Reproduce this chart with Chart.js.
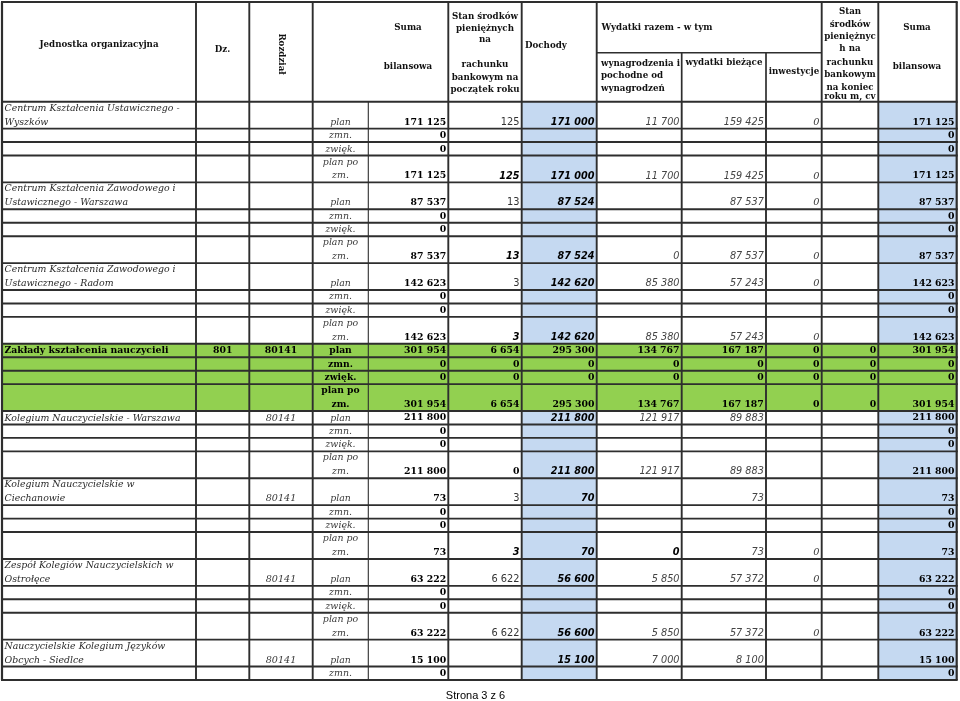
<!DOCTYPE html>
<html>
<head>
<meta charset="utf-8">
<script src="https://cdn.jsdelivr.net/npm/chart.js@4.4.0/dist/chart.umd.min.js"></script>
<style>
html,body{margin:0;padding:0;background:#ffffff;}
#wrap{width:960px;height:701px;position:relative;}
</style>
</head>
<body>
<div id="wrap"><canvas id="c" width="960" height="701"></canvas></div>
<script>
// ---------------- DATA ----------------
const orgNames = [
  ['Centrum Kształcenia Ustawicznego -', 'Wyszków'],
  ['Centrum Kształcenia Zawodowego i', 'Ustawicznego - Warszawa'],
  ['Centrum Kształcenia Zawodowego i', 'Ustawicznego - Radom'],
  ['Zakłady kształcenia nauczycieli'],
  ['Kolegium Nauczycielskie - Warszawa'],
  ['Kolegium Nauczycielskie w', 'Ciechanowie'],
  ['Zespół Kolegiów Nauczycielskich w', 'Ostrołęce'],
  ['Nauczycielskie Kolegium Języków', 'Obcych - Siedlce']
];
const dzialCodes = ['', '', '', '801', '', '', '', ''];
const rozdzialCodes = ['', '', '', '80141', '80141', '80141', '80141', '80141'];
const summaryUnit = 3; // "Zakłady kształcenia nauczycieli" (highlighted total row)
const rowLabels = [['plan'], ['zmn.'], ['zwięk.'], ['plan po', 'zm.']];

// columns: suma bilansowa, stan pocz., dochody, wynagrodzenia, wydatki bieżące, inwestycje, stan końc., suma bilansowa
const planValues = [
  [171125, 125, 171000, 11700, 159425, 0, null, 171125],
  [87537, 13, 87524, null, 87537, 0, null, 87537],
  [142623, 3, 142620, 85380, 57243, 0, null, 142623],
  [301954, 6654, 295300, 134767, 167187, 0, 0, 301954],
  [211800, null, 211800, 121917, 89883, null, null, 211800],
  [73, 3, 70, null, 73, null, null, 73],
  [63222, 6622, 56600, 5850, 57372, 0, null, 63222],
  [15100, null, 15100, 7000, 8100, null, null, 15100]
];
const zmnValues = [
  [0, null, null, null, null, null, null, 0],
  [0, null, null, null, null, null, null, 0],
  [0, null, null, null, null, null, null, 0],
  [0, 0, 0, 0, 0, 0, 0, 0],
  [0, null, null, null, null, null, null, 0],
  [0, null, null, null, null, null, null, 0],
  [0, null, null, null, null, null, null, 0],
  [0, null, null, null, null, null, null, 0]
];
const zwiekValues = [
  [0, null, null, null, null, null, null, 0],
  [0, null, null, null, null, null, null, 0],
  [0, null, null, null, null, null, null, 0],
  [0, 0, 0, 0, 0, 0, 0, 0],
  [0, null, null, null, null, null, null, 0],
  [0, null, null, null, null, null, null, 0],
  [0, null, null, null, null, null, null, 0],
  null
];
const planPoValues = [
  [171125, 125, 171000, 11700, 159425, 0, null, 171125],
  [87537, 13, 87524, 0, 87537, 0, null, 87537],
  [142623, 3, 142620, 85380, 57243, 0, null, 142623],
  [301954, 6654, 295300, 134767, 167187, 0, 0, 301954],
  [211800, 0, 211800, 121917, 89883, null, null, 211800],
  [73, 3, 70, 0, 73, 0, null, 73],
  [63222, 6622, 56600, 5850, 57372, 0, null, 63222],
  null
];
const headerLabels = {
  unit: 'Jednostka organizacyjna',
  dz: 'Dz.',
  rozdz: 'Rozdział',
  sumaStart: ['Suma', 'bilansowa'],
  stanStart: ['Stan środków', 'pieniężnych', 'na', 'rachunku', 'bankowym na', 'początek roku'],
  dochody: 'Dochody',
  wydatki: 'Wydatki razem - w tym',
  wynagr: ['wynagrodzenia i', 'pochodne od', 'wynagrodzeń'],
  biezace: 'wydatki bieżące',
  inwest: 'inwestycje',
  stanEnd: ['Stan', 'środków', 'pieniężnyc', 'h na', 'rachunku', 'bankowym', 'na koniec', 'roku m, cv'],
  sumaEnd: ['Suma', 'bilansowa']
};
const footerText = 'Strona 3 z 6';

// ---------------- LAYOUT / STYLE ----------------
const COL_EDGES = [2, 196, 249.3, 312.7, 368.3, 448.3, 521.7, 596.7, 681.7, 766, 821.7, 878.3, 956.7];
const HEADER_TOP = 2;
const BLUE = '#c5d9f1';
const GREEN = '#92d050';
const LINE = '#2e2e2e';
const SERIF = '"DejaVu Serif", serif';
const SANS = '"DejaVu Sans", sans-serif';
const ST = {
  boldSerif: { font: 'bold 9.3px ' + SERIF, color: '#000' },
  italicSerif: { font: 'italic 9.8px ' + SERIF, color: '#3a3a3a' },
  regSans: { font: '9.8px ' + SANS, color: '#333' },
  boldItSans: { font: 'bold italic 9.7px ' + SANS, color: '#000' },
  itSans: { font: 'italic 9.7px ' + SANS, color: '#444' }
};
const overrides = { '4:3:1': 'boldSerif', '5:3:3': 'boldItSans', '6:3:1': 'regSans' };

function fmt(n) { return String(n).replace(/\B(?=(\d{3})+(?!\d))/g, ' '); }

// build rows (in row units; short row = 1, tall row = 2)
const rows = [];
for (let u = 0; u < orgNames.length; u++) {
  const sets = [planValues[u], zmnValues[u], zwiekValues[u], planPoValues[u]];
  sets.forEach((vals, k) => {
    if (!vals) return;
    let span = 1;
    if (k === 3) span = 2;
    if (k === 0 && orgNames[u].length > 1) span = 2;
    rows.push({ u, k, vals, span });
  });
}
let acc = 0;
rows.forEach(r => { r.y0 = acc; acc += r.span; r.y1 = acc; });
const TOTAL_UNITS = acc;

function styleFor(u, k, col) {
  const key = u + ':' + k + ':' + col;
  if (overrides[key]) return ST[overrides[key]];
  if (u === summaryUnit) return ST.boldSerif;
  if (col === 0 || col === 7) return ST.boldSerif;
  if (col === 1) return k === 3 ? ST.boldItSans : ST.regSans;
  if (col === 2) return ST.boldItSans;
  if (col === 3 || col === 4) return ST.itSans;
  if (col === 5) return ST.italicSerif;
  return ST.itSans;
}

const tablePlugin = {
  id: 'tablePlugin',
  beforeDatasetsDraw(chart) {
    const ctx = chart.ctx, xs = chart.scales.x, ys = chart.scales.y;
    const X = v => xs.getPixelForValue(v), Y = v => ys.getPixelForValue(v);
    ctx.save();
    rows.forEach(r => {
      const top = Y(r.y0), bot = Y(r.y1);
      if (r.u === summaryUnit) {
        ctx.fillStyle = GREEN;
        ctx.fillRect(X(COL_EDGES[0]), top, X(COL_EDGES[12]) - X(COL_EDGES[0]), bot - top);
      } else {
        ctx.fillStyle = BLUE;
        [6, 11].forEach(c => ctx.fillRect(X(COL_EDGES[c]), top, X(COL_EDGES[c + 1]) - X(COL_EDGES[c]), bot - top));
      }
    });
    ctx.restore();
  },
  afterDatasetsDraw(chart) {
    const ctx = chart.ctx, xs = chart.scales.x, ys = chart.scales.y;
    const X = v => xs.getPixelForValue(v), Y = v => ys.getPixelForValue(v);
    const area = chart.chartArea;
    const hTop = HEADER_TOP, hBot = area.top;
    const L = X(COL_EDGES[0]), R = X(COL_EDGES[12]);
    ctx.save();
    // ---- grid lines
    ctx.strokeStyle = LINE;
    function hline(x0, x1, y, w) { ctx.lineWidth = w; ctx.beginPath(); ctx.moveTo(x0, y); ctx.lineTo(x1, y); ctx.stroke(); }
    function vline(x, y0, y1, w) { ctx.lineWidth = w; ctx.beginPath(); ctx.moveTo(x, y0); ctx.lineTo(x, y1); ctx.stroke(); }
    hline(L - 1, R + 1, hTop, 2);
    hline(X(COL_EDGES[7]), X(COL_EDGES[10]), hTop + 50.7, 1.6);
    rows.forEach(r => hline(L - 1, R + 1, Y(r.y0), 1.9));
    hline(L - 1, R + 1, Y(TOTAL_UNITS), 1.9);
    // header verticals
    [0, 1, 2, 3, 5, 6, 7, 10, 11, 12].forEach(c => vline(X(COL_EDGES[c]), hTop, hBot, c === 0 || c === 12 ? 2.2 : 1.9));
    [8, 9].forEach(c => vline(X(COL_EDGES[c]), hTop + 50.7, hBot, 1.7));
    // body verticals
    COL_EDGES.forEach((e, c) => vline(X(e), area.top, Y(TOTAL_UNITS), c === 4 ? 1.1 : (c === 0 || c === 12 ? 2.2 : 1.9)));

    // ---- header text
    ctx.fillStyle = '#111';
    ctx.font = 'bold 8.7px ' + SERIF;
    ctx.textBaseline = 'middle';
    function txt(s, x, y, align) { ctx.textAlign = align || 'center'; ctx.fillText(s, x, y); }
    const hy = v => hTop + v;
    txt(headerLabels.unit, X(99), hy(43));
    txt(headerLabels.dz, X(222.5), hy(48));
    ctx.save();
    ctx.translate(X(281), hy(52));
    ctx.rotate(Math.PI / 2);
    txt(headerLabels.rozdz, 0, 0);
    ctx.restore();
    txt(headerLabels.sumaStart[0], X(408), hy(26));
    txt(headerLabels.sumaStart[1], X(408), hy(65));
    [14.7, 26.5, 38, 63, 75.5, 87.5].forEach((yy, i) => txt(headerLabels.stanStart[i], X(485), hy(yy)));
    txt(headerLabels.dochody, X(525), hy(44), 'left');
    txt(headerLabels.wydatki, X(601.5), hy(26), 'left');
    [62, 74, 86.5].forEach((yy, i) => txt(headerLabels.wynagr[i], X(601), hy(yy), 'left'));
    txt(headerLabels.biezace, X(724), hy(61));
    txt(headerLabels.inwest, X(794), hy(70));
    [10, 22.3, 34.7, 46.3, 60.7, 73, 85.3, 95].forEach((yy, i) => txt(headerLabels.stanEnd[i], X(850), hy(yy)));
    txt(headerLabels.sumaEnd[0], X(917), hy(26));
    txt(headerLabels.sumaEnd[1], X(917), hy(65));

    // ---- body text
    rows.forEach(r => {
      const top = Y(r.y0), bot = Y(r.y1);
      const firstY = top + 6.6, lastY = bot - 6.4;
      const green = r.u === summaryUnit;
      if (r.k === 0) {
        const nm = orgNames[r.u];
        ctx.font = green ? 'bold 9.3px ' + SERIF : 'italic 9.4px ' + SERIF;
        ctx.fillStyle = green ? '#000' : '#2a2a2a';
        if (nm.length === 1) txt(nm[0], X(COL_EDGES[0] + 2.5), lastY, 'left');
        else { txt(nm[0], X(COL_EDGES[0] + 2.5), firstY, 'left'); txt(nm[1], X(COL_EDGES[0] + 2.5), lastY, 'left'); }
        ctx.font = green ? 'bold 9.3px ' + SERIF : 'italic 9.6px ' + SERIF;
        ctx.fillStyle = green ? '#000' : '#3a3a3a';
        if (dzialCodes[r.u]) txt(dzialCodes[r.u], X((COL_EDGES[1] + COL_EDGES[2]) / 2), lastY);
        if (rozdzialCodes[r.u]) txt(rozdzialCodes[r.u], X((COL_EDGES[2] + COL_EDGES[3]) / 2), lastY);
      }
      // row label
      ctx.font = green ? 'bold 9.2px ' + SERIF : 'italic 9.4px ' + SERIF;
      ctx.fillStyle = green ? '#000' : '#3a3a3a';
      const lab = rowLabels[r.k];
      const cx = X((COL_EDGES[3] + COL_EDGES[4]) / 2);
      if (lab.length === 1) txt(lab[0], cx, lastY);
      else { txt(lab[0], cx, firstY); txt(lab[1], cx, lastY); }
      // values
      r.vals.forEach((v, i) => {
        if (v === null || v === undefined) return;
        const col = i + 4;
        const st = styleFor(r.u, r.k, i);
        ctx.font = st.font; ctx.fillStyle = st.color;
        txt(fmt(v), X(COL_EDGES[col + 1] - 2.2), lastY, 'right');
      });
    });

    // footer
    ctx.font = '11px "Liberation Sans", Arial, sans-serif';
    ctx.fillStyle = '#000';
    txt(footerText, X(475.5), 695.5);
    ctx.restore();
  }
};

new Chart(document.getElementById('c'), {
  type: 'scatter',
  data: { datasets: [{ data: [], pointRadius: 0 }] },
  options: {
    responsive: false,
    animation: false,
    events: [],
    layout: { padding: { left: 0, right: 0, top: 101.7, bottom: 21 } },
    plugins: { legend: { display: false }, tooltip: { enabled: false }, title: { display: false } },
    scales: {
      x: { type: 'linear', min: 0, max: 960, display: false },
      y: { type: 'linear', min: 0, max: TOTAL_UNITS, reverse: true, display: false }
    }
  },
  plugins: [tablePlugin]
});
</script>
</body>
</html>
